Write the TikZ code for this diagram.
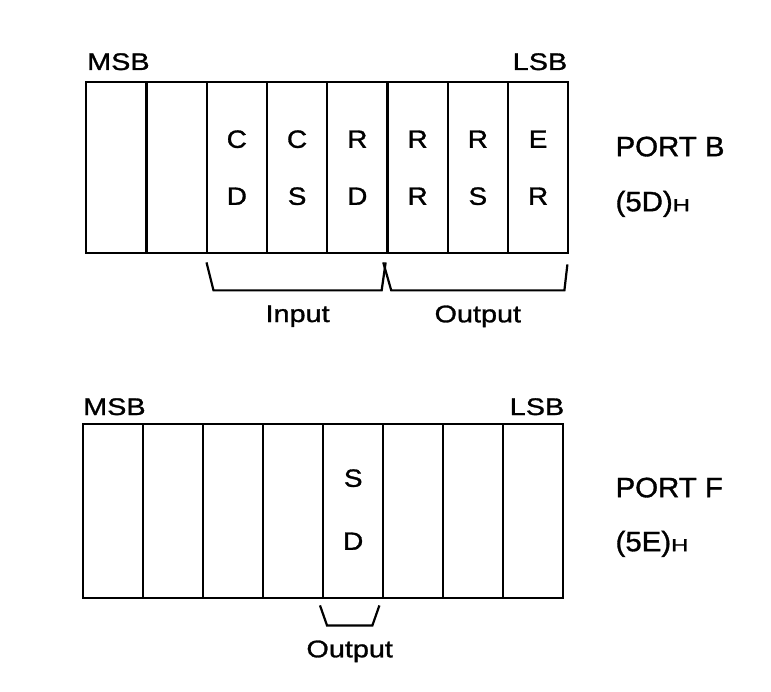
\documentclass[tikz,border=0pt]{standalone}
\usepackage{fontspec}
\setmainfont{Liberation Sans}[FakeStretch=1.2, FakeBold=1.2]
\newfontfamily\zellfont{Liberation Sans}[FakeStretch=1.12, FakeBold=1.2]
\newfontfamily\portfont{Liberation Sans}[FakeStretch=1.05, FakeBold=1.2]

\begin{document}
\begin{tikzpicture}[x=1pt,y=1pt]
	% Einstellungen für Bits, Beschriftungen und Klammern
	\tikzset{
		bit/.style={
			draw, % Umrandung
			line width=2.4pt, % kräftige Linie
			minimum width=60.25pt, % Breite eines Bits
			minimum height=171pt, % Höhe des Registers
			inner sep=0pt,
			anchor=north west
		},
		zeichen/.style={inner sep=0pt, font=\fontsize{24}{28}\selectfont},
		zelle/.style={inner sep=0pt, font=\zellfont\fontsize{25}{28}\selectfont},
		port/.style={inner sep=0pt, anchor=base west, font=\portfont\fontsize{28}{32}\selectfont},
		klammer/.style={line width=2.2pt, line join=miter}
	}
	% kleines, breites H für die Hex-Adresse
	\newcommand{\hexH}{\scalebox{1.3}[1]{\fontsize{17.5}{20}\selectfont H}}
	
	% Hintergrund und feste Bildgröße
	\fill[white] (0,0) rectangle (771,-692);
	\useasboundingbox (0,0) rectangle (771,-692);
	
	% ---------------- PORT B ----------------
	% 8 Bits erzeugen
	\foreach \n in {1,...,8} {
		\node[bit] (b\n) at ({85+(\n-1)*60.25}, -81) {}; % Bit-Kästchen
	}
	% Signalnamen in zwei Zeilen
	\foreach \n/\oben/\unten in {3/C/D, 4/C/S, 5/R/D, 6/R/R, 7/R/S, 8/E/R} {
		\node[zelle] (bo\n) at ([yshift=28.5]b\n.center) {\oben};
		\node[zelle] (bu\n) at ([yshift=-28.5]b\n.center) {\unten};
	}
	\node[zeichen, anchor=base west] (bmsb) at ([shift={(2,11)}]b1.north west) {MSB};
	\node[zeichen, anchor=base east] (blsb) at ([shift={(-2,11)}]b8.north east) {LSB};
	\node[port] (bport) at ([shift={(46,11.5)}]b8.east) {PORT B};
	\node[port] (badr) at ([shift={(46,-43.5)}]b8.east) {(5D)\hexH};
	% Klammern für Eingang und Ausgang
	\draw[klammer] ([shift={(1,-8)}]b3.south west) -- ([shift={(8,-36)}]b3.south west)
		-- node[zeichen, below=14pt] (bein) {Input} ([shift={(-7,-36)}]b5.south east)
		-- ([shift={(-3,-8)}]b5.south east);
	\draw[klammer] ([shift={(-3,-8)}]b6.south west) -- ([shift={(5,-36)}]b6.south west)
		-- node[zeichen, below=14pt] (baus) {Output} ([shift={(-5,-36)}]b8.south east)
		-- ([shift={(-2,-10)}]b8.south east);
	
	% ---------------- PORT F ----------------
	\foreach \n in {1,...,8} {
		\node[bit, minimum width=60pt, minimum height=174pt] (f\n) at ({82+(\n-1)*60}, -423) {};
	}
	\node[zelle] (fo5) at ([yshift=33]f5.center) {S};
	\node[zelle] (fu5) at ([yshift=-30]f5.center) {D};
	\node[zeichen, anchor=base west] (fmsb) at ([shift={(1,8)}]f1.north west) {MSB};
	\node[zeichen, anchor=base east] (flsb) at ([shift={(0,8)}]f8.north east) {LSB};
	\node[port] (fport) at ([shift={(51,14)}]f8.east) {PORT F};
	\node[port] (fadr) at ([shift={(51,-40)}]f8.east) {(5E)\hexH};
	% Klammer für den Ausgang
	\draw[klammer] ([shift={(-2,-6)}]f5.south west) -- ([shift={(5,-26)}]f5.south west)
		-- node[zeichen, below=14pt] (faus) {Output} ([shift={(-12,-26)}]f5.south east)
		-- ([shift={(-5,-6)}]f5.south east);
\end{tikzpicture}
\end{document}
